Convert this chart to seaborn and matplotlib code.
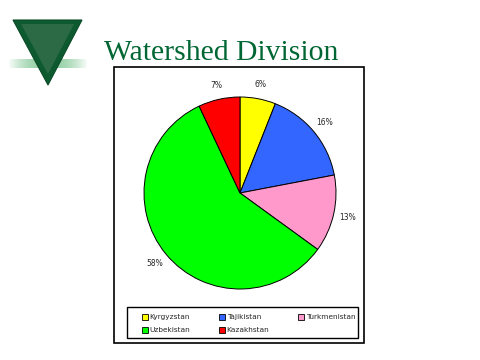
import numpy as np
import matplotlib
matplotlib.use("Agg")
import matplotlib.pyplot as plt
from matplotlib.patches import Polygon, Rectangle, Patch
import seaborn as sns

# data
countries = ["Kyrgyzstan", "Tajikistan", "Turkmenistan", "Uzbekistan", "Kazakhstan"]
shares = [6, 16, 13, 58, 7]
colors = ["#FFFF00", "#3366FF", "#FF99CC", "#00FF00", "#FF0000"]
title = "Watershed Division"

sns.set_style("white")
plt.rcParams["font.family"] = ["DejaVu Sans"]

W, H = 480, 360
fig = plt.figure(figsize=(4.8, 3.6), dpi=100)
fig.patch.set_facecolor("white")


def fx(px):
    return px / W


def fy(py):
    return 1 - py / H


# logo: green triangle with a faded bar across it
tri = Polygon([(fx(13), fy(20)), (fx(82), fy(20)), (fx(48), fy(85))],
              closed=True, transform=fig.transFigure, facecolor="#0d5a30",
              edgecolor="#0a4a26", lw=0.8)
fig.patches.append(tri)
inner = Polygon([(fx(21), fy(24)), (fx(74), fy(24)), (fx(48), fy(74))],
                closed=True, transform=fig.transFigure, facecolor="#2b6a44",
                edgecolor="none")
fig.patches.append(inner)
bar_ax = fig.add_axes([fx(8), fy(68), fx(80), 9 / H])
t = np.linspace(-1, 1, 200)
alpha = np.clip(1 - np.abs(t) ** 2, 0, 1) * 0.95
grad = np.zeros((1, 200, 4))
grad[..., 0] = 0.55
grad[..., 1] = 0.80
grad[..., 2] = 0.62
grad[..., 3] = alpha
bar_ax.imshow(grad, aspect="auto", extent=(0, 1, 0, 1))
bar_ax.axis("off")

fig.text(fx(104), fy(60), title, fontsize=21.3, color="#006633",
         family=["Liberation Serif", "DejaVu Serif"], va="baseline", ha="left")

# chart frame
fig.patches.append(Rectangle((fx(114), fy(343)), fx(364) - fx(114), fy(67) - fy(343),
                             transform=fig.transFigure, fill=False,
                             edgecolor="black", lw=1.2))

ax = fig.add_axes([fx(144), fy(289), fx(192), 192 / H])
wedges, _, autotexts = ax.pie(shares, colors=colors, startangle=90, counterclock=False,
                              autopct="%d%%", pctdistance=1.15,
                              wedgeprops=dict(edgecolor="black", linewidth=0.7))
for txt in autotexts:
    txt.set_fontsize(5.5)
ax.set_xlim(-1, 1)
ax.set_ylim(-1, 1)
ax.set_aspect("equal")

# legend box and entries (row order: Kyr, Taj, Turk / Uzb, Kaz)
fig.patches.append(Rectangle((fx(127), fy(338)), fx(358) - fx(127), fy(307) - fy(338),
                             transform=fig.transFigure, fill=False,
                             edgecolor="black", lw=1.0))
order = [0, 3, 1, 4, 2]
handles = [Patch(facecolor=colors[i], edgecolor="black", lw=0.6, label=countries[i]) for i in order]
fig.legend(handles=handles, ncol=3, loc="lower left", mode="expand",
           bbox_to_anchor=(fx(135), fy(340), fx(362) - fx(135), fy(306) - fy(340)),
           frameon=False, fontsize=5.3, handlelength=0.8, handleheight=0.8,
           handletextpad=0.3, labelspacing=0.9, borderaxespad=0.5)

fig.savefig("out.png", dpi=100)
